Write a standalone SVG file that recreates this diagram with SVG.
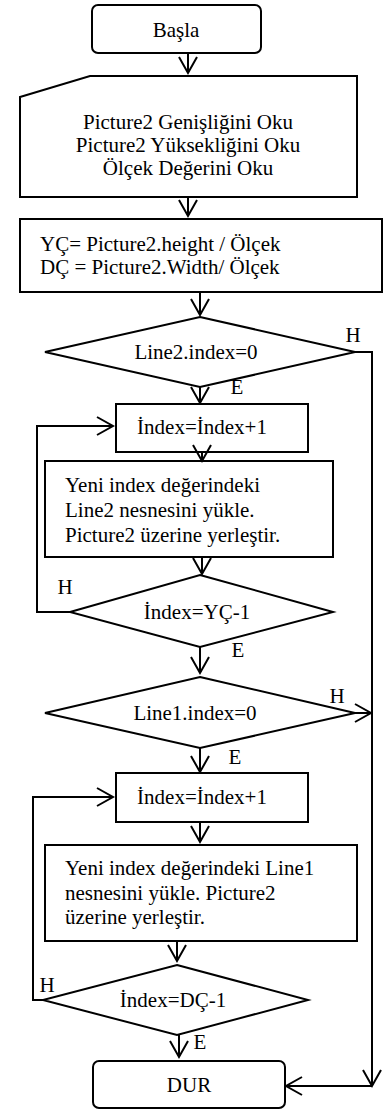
<svg xmlns="http://www.w3.org/2000/svg" width="392" height="1111" viewBox="0 0 392 1111">
  <style>
    .shape { fill: #ffffff; stroke: #000000; stroke-width: 2; }
    .wire { fill: none; stroke: #000000; stroke-width: 2; }
    .arrow { fill: none; stroke: #000000; stroke-width: 2; marker-end: url(#vhead); }
    text { font-family: "Liberation Serif", "Times New Roman", serif; font-size: 21px; fill: #000000; }
    .c { text-anchor: middle; }
  </style>
  <defs>
    <marker id="vhead" viewBox="-18 -11 20 22" refX="0" refY="0" markerWidth="20" markerHeight="22" markerUnits="userSpaceOnUse" orient="auto" overflow="visible">
      <path d="M -16 -9 L 0 0 L -16 9" fill="none" stroke="#000000" stroke-width="2"/>
    </marker>
  </defs>
  <rect width="392" height="1111" fill="#ffffff"/>

  <g id="start">
    <rect class="shape" x="92" y="5" width="169" height="48" rx="6"/>
    <text class="c" x="176" y="37">Başla</text>
  </g>

  <g id="read-input">
    <polygon class="shape" points="20,97 90,76 357,76 357,197 20,197"/>
    <text class="c" x="188" y="129">Picture2 Genişliğini Oku</text>
    <text class="c" x="188" y="152">Picture2 Yüksekliğini Oku</text>
    <text class="c" x="188" y="175">Ölçek Değerini Oku</text>
  </g>

  <g id="compute">
    <rect class="shape" x="20" y="219" width="362" height="73"/>
    <text x="40" y="251">YÇ= Picture2.height / Ölçek</text>
    <text x="40" y="274">DÇ = Picture2.Width/ Ölçek</text>
  </g>

  <g id="check-line2">
    <polygon class="shape" points="200,317 355,352 200,387 45,352"/>
    <text class="c" x="196" y="359">Line2.index=0</text>
  </g>

  <g id="inc-1">
    <rect class="shape" x="116" y="404" width="192" height="48"/>
    <text class="c" x="202" y="434">İndex=İndex+1</text>
  </g>

  <g id="load-line2">
    <rect class="shape" x="45" y="461" width="288" height="96"/>
    <text x="65" y="492">Yeni index değerindeki</text>
    <text x="65" y="517">Line2 nesnesini yükle.</text>
    <text x="65" y="542">Picture2 üzerine yerleştir.</text>
  </g>

  <g id="check-yc">
    <polygon class="shape" points="200,575 333,612 200,647 70,612"/>
    <text class="c" x="197" y="619">İndex=YÇ-1</text>
  </g>

  <g id="check-line1">
    <polygon class="shape" points="200,677 355,713 200,748 45,713"/>
    <text class="c" x="195" y="720">Line1.index=0</text>
  </g>

  <g id="inc-2">
    <rect class="shape" x="116" y="773" width="192" height="49"/>
    <text class="c" x="202" y="804">İndex=İndex+1</text>
  </g>

  <g id="load-line1">
    <rect class="shape" x="45" y="845" width="312" height="96"/>
    <text x="65" y="875">Yeni index değerindeki Line1</text>
    <text x="65" y="900">nesnesini yükle. Picture2</text>
    <text x="65" y="924">üzerine yerleştir.</text>
  </g>

  <g id="check-dc">
    <polygon class="shape" points="177,965 308,1000 177,1035 43,1000"/>
    <text class="c" x="173" y="1007">İndex=DÇ-1</text>
  </g>

  <g id="end">
    <rect class="shape" x="93" y="1061" width="192" height="47" rx="6"/>
    <text class="c" x="189" y="1092">DUR</text>
  </g>

  <g id="connectors">
    <line class="arrow" x1="188" y1="53" x2="188" y2="73"/>
    <line class="arrow" x1="188" y1="197" x2="188" y2="216"/>
    <line class="arrow" x1="200" y1="292" x2="200" y2="315"/>
    <line class="arrow" x1="200" y1="387" x2="200" y2="403"/>
    <line class="arrow" x1="202" y1="452" x2="202" y2="461"/>
    <line class="arrow" x1="202" y1="557" x2="202" y2="574"/>
    <path class="arrow" d="M 70 612 H 37 V 426 H 113"/>
    <line class="arrow" x1="200" y1="647" x2="200" y2="673"/>
    <path class="arrow" d="M 355 713 H 371"/>
    <line class="arrow" x1="200" y1="748" x2="200" y2="772"/>
    <line class="arrow" x1="200" y1="822" x2="200" y2="842"/>
    <line class="arrow" x1="177" y1="941" x2="177" y2="961"/>
    <path class="arrow" d="M 43 1000 H 33 V 797 H 113"/>
    <line class="arrow" x1="179" y1="1035" x2="179" y2="1057"/>
    <path class="arrow" d="M 355 352 H 372 V 1086"/>
    <line class="arrow" x1="372" y1="1086" x2="286" y2="1086"/>
  </g>

  <g id="labels">
    <text class="c" x="353" y="342">H</text>
    <text class="c" x="237" y="394">E</text>
    <text class="c" x="65" y="594">H</text>
    <text class="c" x="238" y="657">E</text>
    <text class="c" x="337" y="703">H</text>
    <text class="c" x="235" y="764">E</text>
    <text class="c" x="47" y="992">H</text>
    <text class="c" x="200" y="1049">E</text>
  </g>
</svg>
